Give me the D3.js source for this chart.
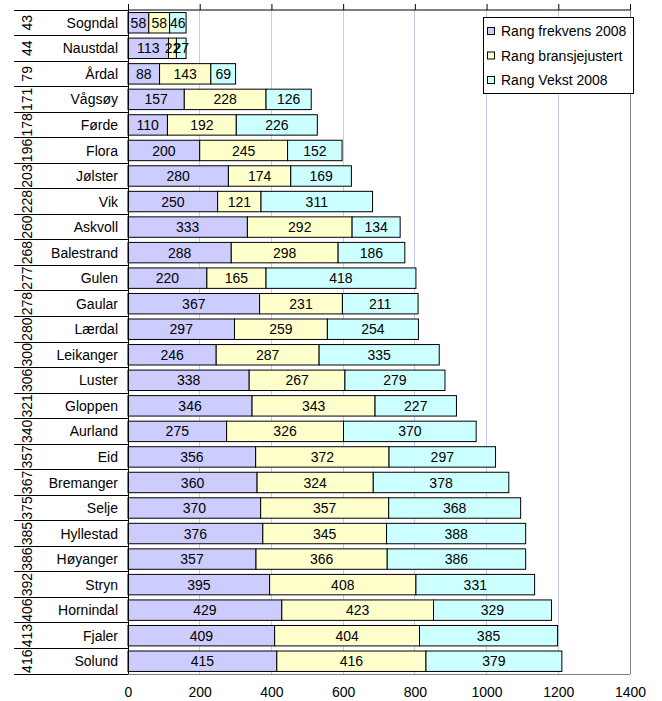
<!DOCTYPE html>
<html><head><meta charset="utf-8">
<script src="https://cdn.jsdelivr.net/npm/d3@7"></script>
<style>
html,body{margin:0;padding:0;background:#fff;}
text{font-family:Arial,"Liberation Sans",sans-serif;}
</style></head>
<body>
<svg id="chart" width="662" height="701"></svg>
<script>
const categories = ["Sogndal","Naustdal","Årdal","Vågsøy","Førde","Flora","Jølster","Vik","Askvoll","Balestrand","Gulen","Gaular","Lærdal","Leikanger","Luster","Gloppen","Aurland","Eid","Bremanger","Selje","Hyllestad","Høyanger","Stryn","Hornindal","Fjaler","Solund"];
const ranks = ["43","44","79","171","178","196","203","228","260","268","277","278","280","300","306","321","340","357","367","375","385","386","392","406","413","416"];
const frekvens = [58,113,88,157,110,200,280,250,333,288,220,367,297,246,338,346,275,356,360,370,376,357,395,429,409,415];
const bransje = [58,22,143,228,192,245,174,121,292,298,165,231,259,287,267,343,326,372,324,357,345,366,408,423,404,416];
const vekst = [46,27,69,126,226,152,169,311,134,186,418,211,254,335,279,227,370,297,378,368,388,386,331,329,385,379];
const seriesNames = ["Rang frekvens 2008","Rang bransjejustert","Rang Vekst 2008"];
const seriesColors = ["#ccccff","#ffffcc","#ccffff"];
const xTicks = [0,200,400,600,800,1000,1200,1400];

const svg = d3.select("#chart");
const L = 128, R = 630, T = 10, B = 674;
const x = d3.scaleLinear().domain([0,1400]).range([L,R]);
const y = d3.scaleBand().domain(categories).range([T,B]).paddingInner(0.2).paddingOuter(0.1);
const step = y.step();

// gridlines
svg.append("g").selectAll("line").data(xTicks.filter(d=>d>0 && d<1400)).join("line")
  .attr("x1",d=>x(d)).attr("x2",d=>x(d)).attr("y1",T).attr("y2",B)
  .attr("stroke","#c8c8f0").attr("stroke-width",1).attr("shape-rendering","crispEdges");

// plot border right & bottom
svg.append("line").attr("x1",R).attr("x2",R).attr("y1",T).attr("y2",B).attr("stroke","#808080").attr("shape-rendering","crispEdges");
svg.append("line").attr("x1",L).attr("x2",R).attr("y1",B).attr("y2",B).attr("stroke","#808080").attr("shape-rendering","crispEdges");

// stacked bars
const rows = categories.map((c,i)=>({cat:c, vals:[frekvens[i],bransje[i],vekst[i]]}));
const stack = d3.stack().keys([0,1,2]).value((d,k)=>d.vals[k]);
const stacked = stack(rows);
stacked.forEach((layer,k)=>{
  const g = svg.append("g");
  g.selectAll("rect").data(layer).join("rect")
    .attr("x",d=>x(d[0])).attr("width",d=>x(d[1])-x(d[0]))
    .attr("y",d=>y(d.data.cat)).attr("height",y.bandwidth())
    .attr("fill",seriesColors[k]).attr("stroke","#000").attr("stroke-width",1);
});
stacked.forEach((layer,k)=>{
  svg.append("g").selectAll("text").data(layer).join("text")
    .attr("x",d=>(x(d[0])+x(d[1]))/2).attr("y",d=>y(d.data.cat)+y.bandwidth()/2)
    .attr("dy","0.36em").attr("text-anchor","middle").attr("font-size",14).attr("fill","#000")
    .text(d=>d.data.vals[k]);
});

// top value axis (ticks only, pointing up)
const topAxis = d3.axisTop(x).tickValues(xTicks).tickSize(6).tickFormat("");
svg.append("g").attr("transform",`translate(0,${T})`).call(topAxis)
  .call(g=>g.select(".domain").attr("stroke","#000").attr("d",`M${L},0H${R}`))
  .call(g=>g.selectAll(".tick line").attr("stroke","#000"));

// bottom labels
const botAxis = d3.axisBottom(x).tickValues(xTicks).tickSize(0).tickPadding(0).tickFormat(d3.format("d"));
svg.append("g").attr("transform",`translate(0,${B})`).call(botAxis)
  .call(g=>g.select(".domain").remove())
  .call(g=>g.selectAll("text").attr("font-size",14).attr("fill","#000").attr("dy",null).attr("y",23).attr("font-family","Arial, 'Liberation Sans', sans-serif"));

// category axis line
svg.append("line").attr("x1",L).attr("x2",L).attr("y1",T).attr("y2",B).attr("stroke","#000").attr("shape-rendering","crispEdges");
// category dividers
const bounds = d3.range(categories.length+1).map(i=>T+i*step);
svg.append("g").selectAll("line").data(bounds).join("line")
  .attr("x1",14).attr("x2",L).attr("y1",d=>d).attr("y2",d=>d)
  .attr("stroke","#000").attr("shape-rendering","crispEdges");

// category names
svg.append("g").selectAll("text").data(categories).join("text")
  .attr("x",118).attr("y",d=>y(d)+y.bandwidth()/2).attr("dy","0.36em")
  .attr("text-anchor","end").attr("font-size",14).attr("fill","#000").text(d=>d);

// rank labels rotated
svg.append("g").selectAll("text").data(categories).join("text")
  .attr("transform",(d,i)=>`translate(32,${y(d)+y.bandwidth()/2}) rotate(-90)`)
  .attr("text-anchor","middle").attr("font-size",14).attr("fill","#000")
  .text((d,i)=>ranks[i]);

// legend
const lg = svg.append("g");
lg.append("rect").attr("x",483).attr("y",17).attr("width",150).attr("height",76)
  .attr("fill","#fff").attr("stroke","#000").attr("stroke-width",1).attr("shape-rendering","crispEdges");
seriesNames.forEach((n,k)=>{
  const cy = 31 + k*24.5;
  lg.append("rect").attr("x",487.5).attr("y",cy-3.5).attr("width",7).attr("height",7)
    .attr("fill",seriesColors[k]).attr("stroke","#000").attr("stroke-width",1);
  lg.append("text").attr("x",501).attr("y",cy).attr("dy","0.36em").attr("font-size",14).attr("fill","#000").text(n);
});
</script>
</body></html>
